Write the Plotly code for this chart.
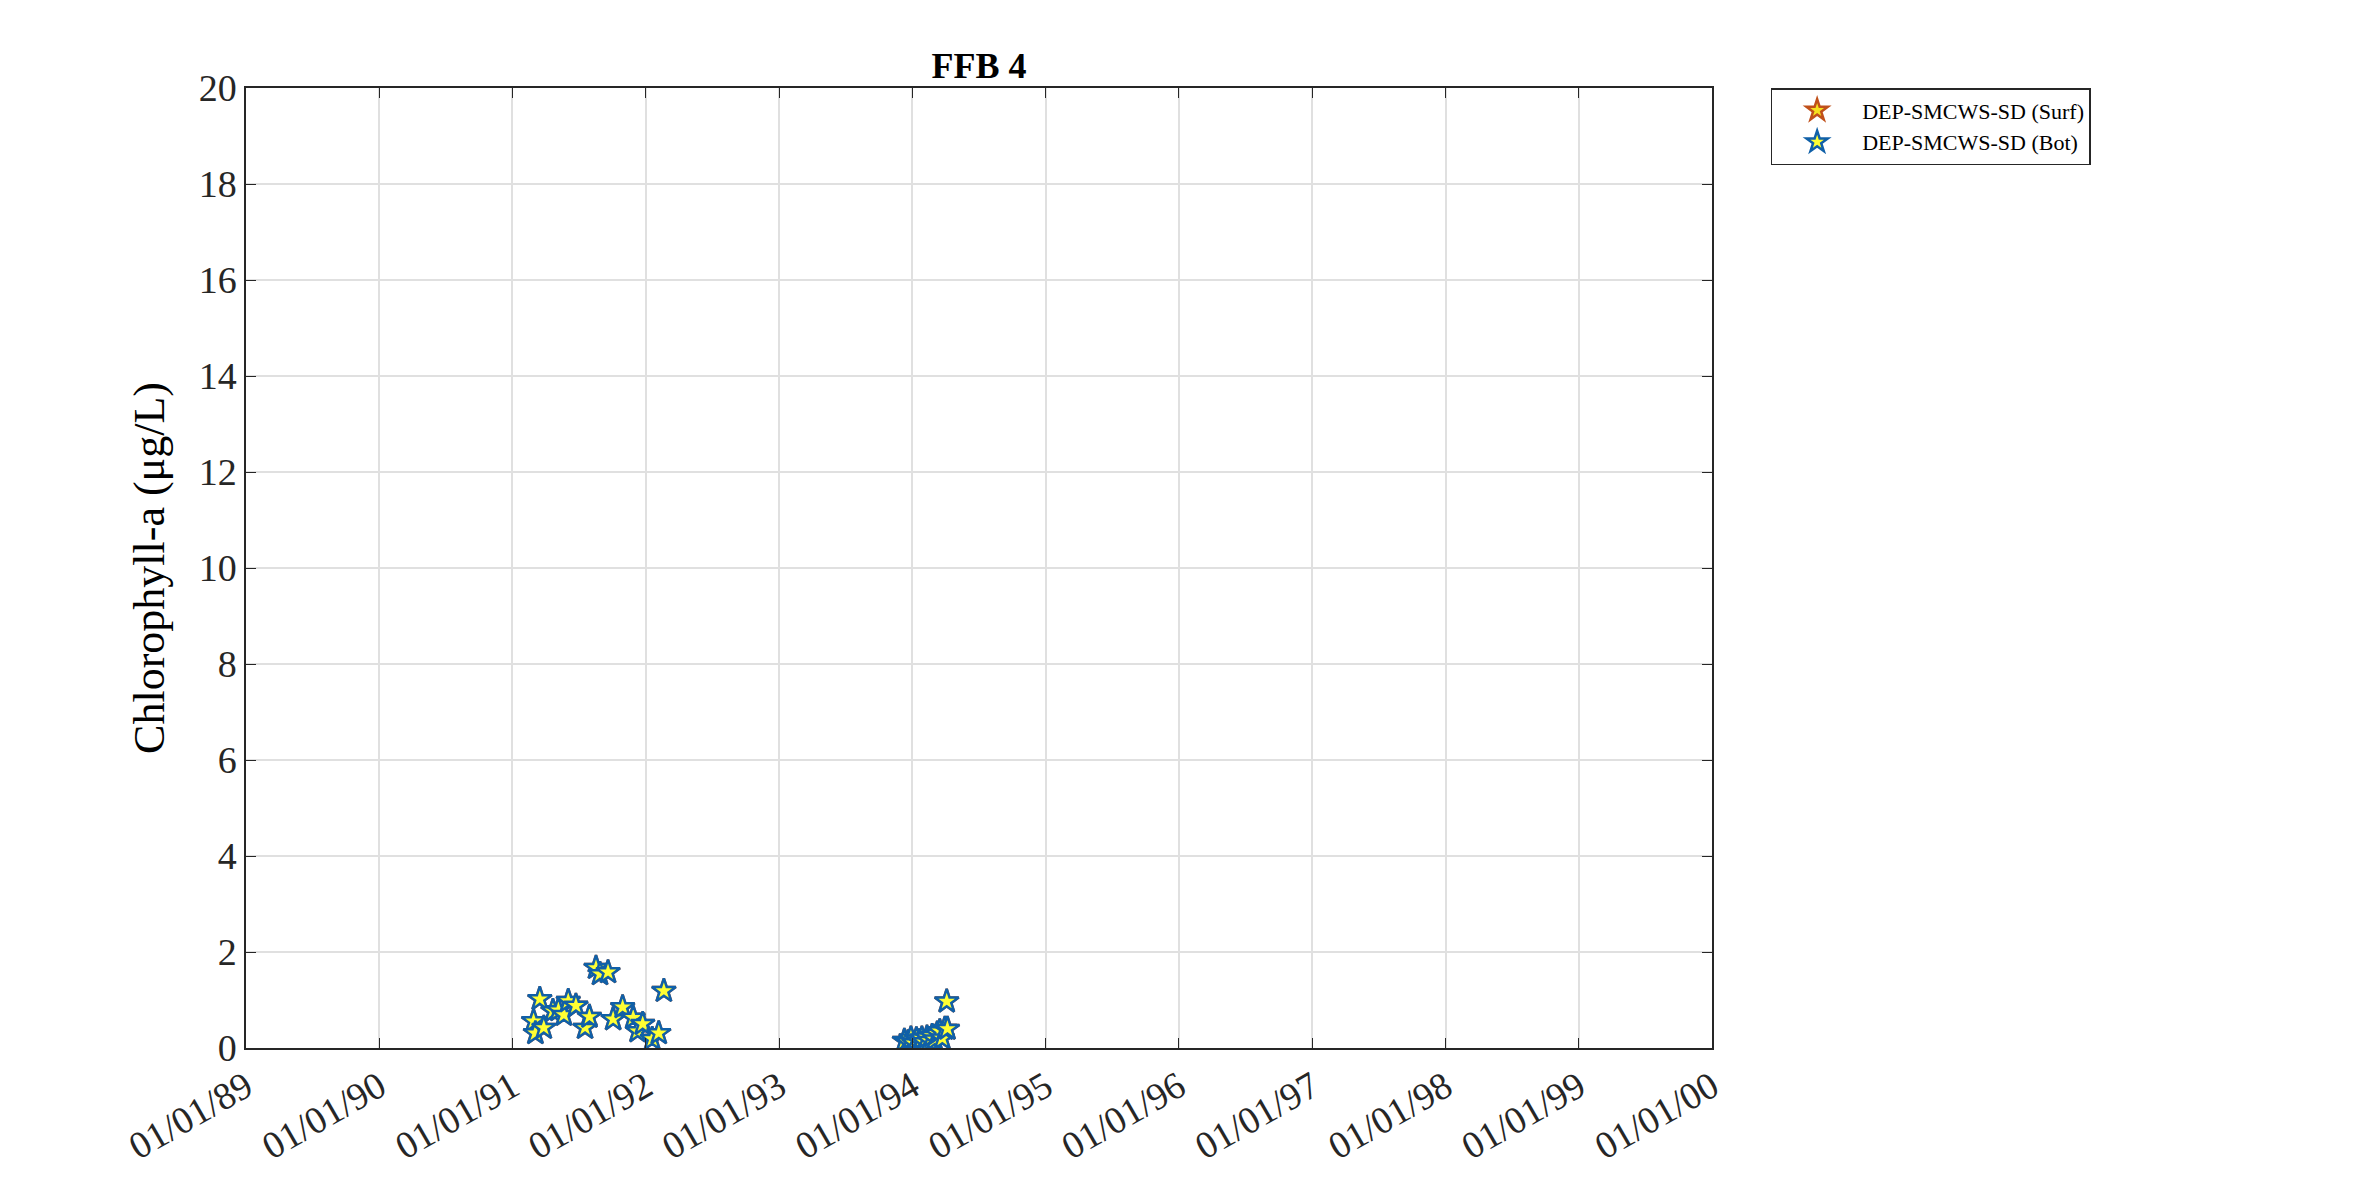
import plotly.graph_objects as go

# FFB 4 chlorophyll-a samples
bot_dates = ['1991-02-28', '1991-03-05', '1991-03-17', '1991-03-28', '1991-04-22', '1991-05-07',
             '1991-05-22', '1991-06-03', '1991-06-24', '1991-07-19', '1991-07-31', '1991-08-18',
             '1991-08-29', '1991-09-20', '1991-10-04', '1991-10-30', '1991-11-28', '1991-12-10',
             '1991-12-24', '1992-01-19', '1992-02-06', '1992-02-20',
             '1993-12-10', '1993-12-20', '1993-12-28', '1994-01-05', '1994-01-12', '1994-01-20',
             '1994-01-27', '1994-02-03', '1994-02-10', '1994-02-17', '1994-02-24', '1994-03-03',
             '1994-03-10', '1994-03-17', '1994-03-24', '1994-03-31', '1994-04-05', '1994-04-07']
bot_vals = [0.56, 0.31, 1.02, 0.42, 0.77, 0.79,
            0.69, 0.98, 0.88, 0.42, 0.65, 1.67,
            1.54, 1.58, 0.60, 0.85, 0.63, 0.35,
            0.50, 0.19, 0.31, 1.19,
            0.15, 0.12, 0.20, 0.10, 0.18, 0.14,
            0.20, 0.12, 0.22, 0.15, 0.25, 0.18,
            0.30, 0.35, 0.20, 0.40, 0.97, 0.40]
surf_dates = bot_dates
surf_vals = bot_vals

year_ticks = ['%d-01-01' % y for y in range(1989, 2001)]
year_labels = ['01/01/%02d' % (y % 100) for y in range(1989, 2001)]

fig = go.Figure()
fig.add_trace(go.Scatter(x=surf_dates, y=surf_vals, mode='markers', name='DEP-SMCWS-SD (Surf)',
                         marker=dict(symbol='star', size=18, color='#f5e11e',
                                     line=dict(color='#c0501a', width=2.5))))
fig.add_trace(go.Scatter(x=bot_dates, y=bot_vals, mode='markers', name='DEP-SMCWS-SD (Bot)',
                         marker=dict(symbol='star', size=18, color='#ffff33',
                                     line=dict(color='#1060a8', width=2.5))))

axis_common = dict(showline=True, linecolor='#262626', linewidth=1.5, mirror='ticks',
                   ticks='inside', ticklen=10, tickcolor='#262626',
                   showgrid=True, gridcolor='#e0e0e0', gridwidth=1.5, zeroline=False,
                   tickfont=dict(family='Liberation Serif', size=38, color='#262626'))

fig.update_xaxes(range=['1989-01-01', '2000-01-01'], tickvals=year_ticks, ticktext=year_labels,
                 tickangle=-30, **axis_common)
fig.update_yaxes(range=[0, 20], dtick=2,
                 title=dict(text='Chlorophyll-a (\u03bcg/L)', standoff=20,
                            font=dict(family='Liberation Serif', size=44, color='#000')),
                 **axis_common)

fig.update_layout(
    width=2362, height=1181,
    margin=dict(l=238, r=658, t=80, b=141, autoexpand=False),
    plot_bgcolor='white', paper_bgcolor='white',
    title=dict(text='<b>FFB 4</b>', x=(238 + 1704) / 2 / 2362, xanchor='center', y=0.962,
               font=dict(family='Liberation Serif', size=36, color='#000')),
    legend=dict(x=1.04, y=1.0, xanchor='left', yanchor='top', bgcolor='white',
                bordercolor='#262626', borderwidth=1.5, itemwidth=80,
                font=dict(family='Liberation Serif', size=22, color='#000')),
)

fig.write_html("out.html")
